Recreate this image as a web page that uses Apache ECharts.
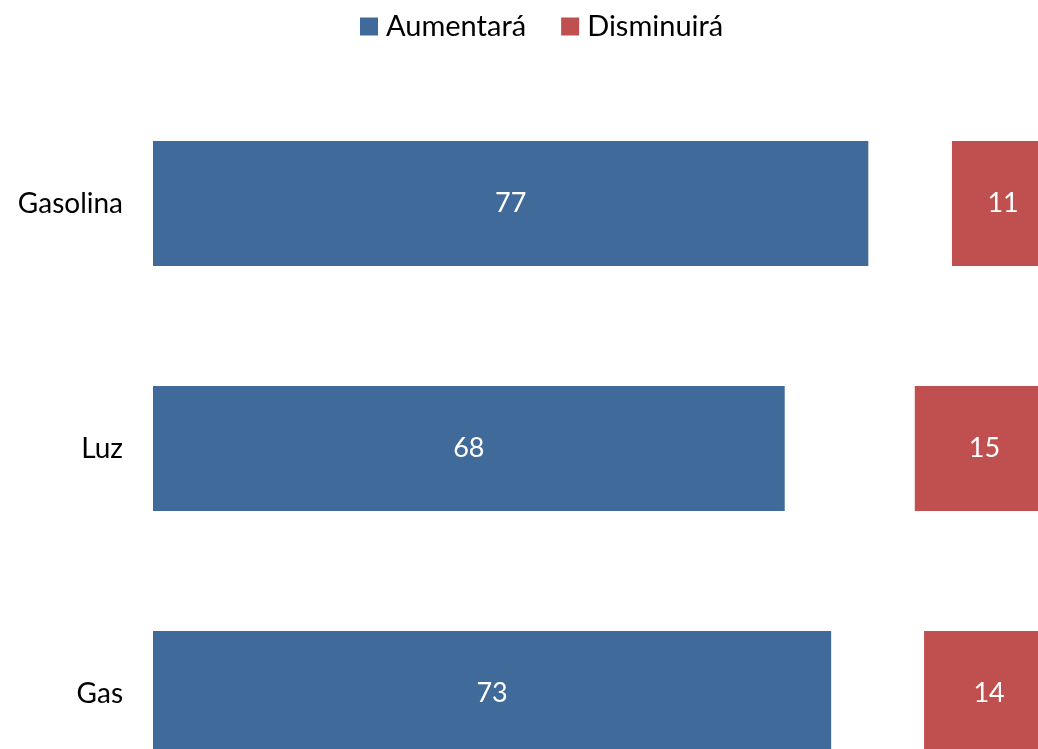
<!DOCTYPE html>
<html>
<head>
<meta charset="utf-8">
<script src="https://cdn.jsdelivr.net/npm/echarts@6/dist/echarts.min.js"></script>
<style>
  html, body { margin: 0; padding: 0; background: #fff; }
  #chart { width: 1038px; height: 749px; }
</style>
</head>
<body>
<div id="chart"></div>
<script>
// categorías (de abajo hacia arriba en el eje)
let categorias = ["Gas", "Luz", "Gasolina"];
let aumentara = [73, 68, 77];
let sinCambio = [10, 14, 9]; // hueco invisible entre barras
let disminuira = [14, 15, 11];

let fuente = "Lato";

let myChart = echarts.init(document.getElementById("chart"));

let option = {
  animation: false,
  textStyle: { fontFamily: fuente },
  legend: {
    top: 7,
    left: 355,
    data: ["Aumentará", "Disminuirá"],
    itemWidth: 18,
    itemHeight: 18,
    itemGap: 35,
    icon: "rect",
    textStyle: { fontSize: 29, color: "#000", fontFamily: fuente, padding: [0, 0, 0, 3] }
  },
  grid: { left: 153, top: 81, width: 929, height: 735, outerBoundsMode: "none" },
  xAxis: {
    type: "value",
    min: 0,
    max: 100,
    show: false
  },
  yAxis: {
    type: "category",
    data: categorias,
    axisLine: { show: false },
    axisTick: { show: false },
    axisLabel: { fontSize: 28, color: "#000", margin: 30, fontFamily: fuente }
  },
  series: [
    {
      name: "Aumentará",
      type: "bar",
      stack: "total",
      barWidth: 125,
      data: aumentara,
      itemStyle: { color: "#406A9A" },
      label: { show: true, position: "inside", color: "#fff", fontSize: 27, fontFamily: fuente }
    },
    {
      name: "Sin cambio",
      type: "bar",
      stack: "total",
      barWidth: 125,
      data: sinCambio,
      itemStyle: { color: "rgba(0,0,0,0)" },
      emphasis: { disabled: true },
      silent: true
    },
    {
      name: "Disminuirá",
      type: "bar",
      stack: "total",
      barWidth: 125,
      data: disminuira,
      itemStyle: { color: "#C0504F" },
      label: { show: true, position: "inside", color: "#fff", fontSize: 27, fontFamily: fuente }
    }
  ]
};
myChart.setOption(option);
</script>
</body>
</html>
